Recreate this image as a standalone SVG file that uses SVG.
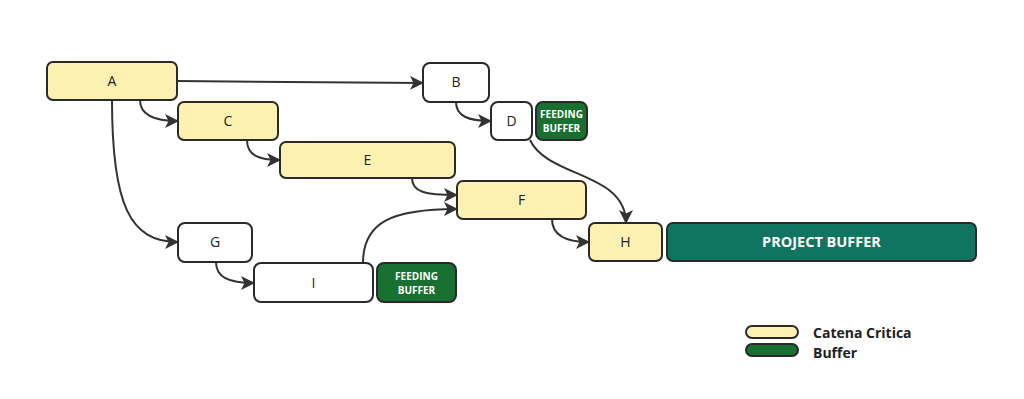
<svg xmlns="http://www.w3.org/2000/svg" width="1024" height="399" viewBox="0 0 1024 399">
<defs>
<marker id="arr" viewBox="0 0 14 14" refX="13" refY="7" markerWidth="14" markerHeight="14" markerUnits="userSpaceOnUse" orient="auto">
<path d="M0,0 L14,7 L0,14 L3.5,7 z" fill="#333"/>
</marker>
<style>
.crit{fill:#FDF1B2;stroke:#2a2a2a;stroke-width:2}
.plain{fill:#fff;stroke:#2a2a2a;stroke-width:2}
.fb{fill:#17702F;stroke:#2a2a2a;stroke-width:2}
.pb{fill:#0F7560;stroke:#2a2a2a;stroke-width:2}
.lbl{font-family:"Open Sans","Liberation Sans",sans-serif;font-size:14px;fill:#222;text-anchor:middle}
.fbt{font-family:"Open Sans","Liberation Sans",sans-serif;font-size:10px;font-weight:bold;fill:#fff;text-anchor:middle}
.pbt{font-family:"Open Sans","Liberation Sans",sans-serif;font-size:14.5px;font-weight:bold;fill:#fff;text-anchor:middle}
.leg{font-family:"Open Sans","Liberation Sans",sans-serif;font-size:14px;font-weight:bold;fill:#222}
.c{fill:none;stroke:#333;stroke-width:2;marker-end:url(#arr)}
</style>
</defs>
<rect width="1024" height="399" fill="#fff"/>
<g id="connectors">
<path class="c" d="M177,81 L423,83"/>
<path class="c" d="M140,100 C140,114 152,121 178,121"/>
<path class="c" d="M112,100 C112,205 130,242 178,242"/>
<path class="c" d="M247,140 C247,155 258,160 280,160"/>
<path class="c" d="M456,102 C456,116 468,121 491,121"/>
<path class="c" d="M530,140 C548,178 626,172 626,223"/>
<path class="c" d="M412,178 C412,192 425,195 457,195"/>
<path class="c" d="M363,263 C363,222 392,209 457,209"/>
<path class="c" d="M216,262 C216,277 228,283 254,283"/>
<path class="c" d="M552,219 C552,235 565,242 589,242"/>
</g>
<g id="A"><rect class="crit" x="47" y="62" width="130" height="38" rx="6"/><text class="lbl" x="112" y="86">A</text></g>
<g id="B"><rect class="plain" x="423" y="63" width="66" height="39" rx="7"/><text class="lbl" x="456" y="87">B</text></g>
<g id="C"><rect class="crit" x="178" y="102" width="100" height="38" rx="6"/><text class="lbl" x="228" y="126">C</text></g>
<g id="D"><rect class="plain" x="491" y="102" width="41" height="38" rx="7"/><text class="lbl" x="511.5" y="126">D</text></g>
<g id="FB1"><rect class="fb" x="536" y="102" width="51" height="38" rx="7"/><text class="fbt" x="561.5" y="118">FEEDING</text><text class="fbt" x="561.5" y="131.5">BUFFER</text></g>
<g id="E"><rect class="crit" x="280" y="142" width="175" height="36" rx="6"/><text class="lbl" x="367.5" y="165">E</text></g>
<g id="F"><rect class="crit" x="457" y="181" width="129" height="38" rx="6"/><text class="lbl" x="521.5" y="205">F</text></g>
<g id="G"><rect class="plain" x="178" y="223" width="74" height="39" rx="7"/><text class="lbl" x="215" y="247">G</text></g>
<g id="H"><rect class="crit" x="589" y="223" width="73" height="38" rx="6"/><text class="lbl" x="625.5" y="247">H</text></g>
<g id="PB"><rect class="pb" x="667" y="223" width="309" height="38" rx="6"/><text class="pbt" x="821.5" y="247">PROJECT BUFFER</text></g>
<g id="I"><rect class="plain" x="254" y="263" width="119" height="39" rx="7"/><text class="lbl" x="313.5" y="288">I</text></g>
<g id="FB2"><rect class="fb" x="377" y="263" width="79" height="39" rx="7"/><text class="fbt" x="416.5" y="280">FEEDING</text><text class="fbt" x="416.5" y="294">BUFFER</text></g>
<g id="legend">
<rect class="crit" x="746" y="326" width="52" height="12" rx="6"/>
<rect class="fb" x="746" y="344" width="52" height="12" rx="6"/>
<text class="leg" x="813" y="337.5">Catena Critica</text>
<text class="leg" x="813" y="357.5">Buffer</text>
</g>
</svg>
